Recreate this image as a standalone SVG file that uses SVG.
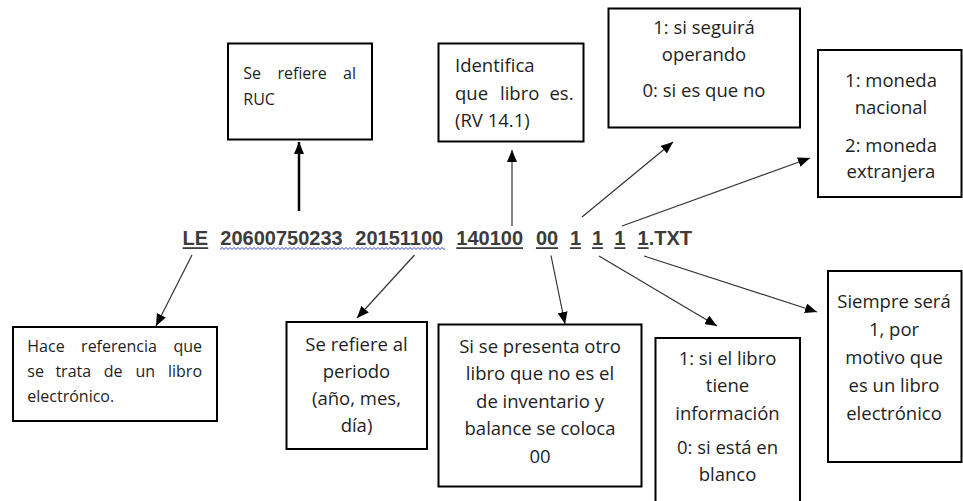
<svg xmlns="http://www.w3.org/2000/svg" width="963" height="501" viewBox="0 0 963 501">
<defs>
<style>
.box{fill:#fff;stroke:#000;stroke-width:2}
.t{font-family:"Open Sans","Noto Sans",sans-serif;font-size:18.5px;fill:#1e1e1e}
.ts{font-family:"Open Sans","Noto Sans",sans-serif;font-size:16px;fill:#1e1e1e}
.c{text-anchor:middle}
.code{font-family:"Liberation Sans",Arial,sans-serif;font-size:20px;font-weight:bold;fill:#3c3c3c}
.ul{fill:#3c3c3c}
.ln{stroke:#333;stroke-width:1.2;fill:none}
.lnb{stroke:#000;stroke-width:2.5;fill:none}
</style>
<marker id="ah" viewBox="0 0 12 10" refX="12" refY="5" markerWidth="12" markerHeight="10" markerUnits="userSpaceOnUse" orient="auto">
<path d="M0,0 L12,5 L0,10 z" fill="#000"/>
</marker>
<pattern id="wave" x="0" y="246.5" width="4" height="4" patternUnits="userSpaceOnUse">
<path d="M0,3 L2,1 L4,3" fill="none" stroke="#3a4bd0" stroke-width="1"/>
</pattern>
</defs>
<rect width="963" height="501" fill="#fff"/>

<g id="code">
<text class="code" y="244.5"><tspan x="182.6">LE</tspan><tspan x="220.3">20600750233</tspan><tspan x="355.3">20151100</tspan><tspan x="456.3">140100</tspan><tspan x="535.9">00</tspan><tspan x="569.9">1</tspan><tspan x="592">1</tspan><tspan x="614.3">1</tspan><tspan x="637.6">1.TXT</tspan></text>
<rect class="ul" x="182.6" y="247.2" width="25.6" height="1.8"/>
<rect class="ul" x="456.3" y="247.2" width="66.7" height="1.8"/>
<rect class="ul" x="535.9" y="247.2" width="22.2" height="1.8"/>
<rect class="ul" x="569.9" y="247.2" width="11.1" height="1.8"/>
<rect class="ul" x="592" y="247.2" width="11.1" height="1.8"/>
<rect class="ul" x="614.3" y="247.2" width="11.1" height="1.8"/>
<rect class="ul" x="637.6" y="247.2" width="11.1" height="1.8"/>
<rect x="220" y="246.5" width="225" height="4" fill="url(#wave)"/>
</g>

<g id="connectors">
<line class="lnb" x1="299" y1="211" x2="299" y2="142" marker-end="url(#ah)"/>
<line class="ln" x1="512" y1="226" x2="512" y2="150" marker-end="url(#ah)"/>
<line class="ln" x1="582" y1="217" x2="673" y2="142" marker-end="url(#ah)"/>
<line class="ln" x1="622" y1="226" x2="810" y2="158" marker-end="url(#ah)"/>
<line class="ln" x1="192" y1="255" x2="156" y2="326" marker-end="url(#ah)"/>
<line class="ln" x1="414.5" y1="255" x2="357" y2="318" marker-end="url(#ah)"/>
<line class="ln" x1="551" y1="255.5" x2="565" y2="324" marker-end="url(#ah)"/>
<line class="ln" x1="599" y1="256" x2="717" y2="326" marker-end="url(#ah)"/>
<line class="ln" x1="644" y1="256" x2="817" y2="312" marker-end="url(#ah)"/>
</g>

<g id="ruc">
<rect class="box" x="228" y="43.5" width="144" height="96"/>
<text class="ts" y="79"><tspan x="243.3">Se</tspan><tspan x="277.4">refiere</tspan><tspan x="356" text-anchor="end">al</tspan></text>
<text class="ts" x="243.3" y="105">RUC</text>
</g>

<g id="libro">
<rect class="box" x="438.5" y="43.5" width="145" height="98"/>
<text class="t" x="455" y="72">Identifica</text>
<text class="t" y="99.5"><tspan x="455">que</tspan><tspan x="500">libro</tspan><tspan x="573.5" text-anchor="end">es.</tspan></text>
<text class="t" x="455" y="127">(RV 14.1)</text>
</g>

<g id="operando">
<rect class="box" x="608.5" y="8.5" width="191.5" height="119"/>
<text class="t c" x="704" y="34">1: si seguirá</text>
<text class="t c" x="704" y="61">operando</text>
<text class="t c" x="704" y="97">0: si es que no</text>
</g>

<g id="moneda">
<rect class="box" x="818" y="50" width="143.5" height="147"/>
<text class="t c" x="891" y="87">1: moneda</text>
<text class="t c" x="891" y="114">nacional</text>
<text class="t c" x="891" y="152">2: moneda</text>
<text class="t c" x="891" y="178">extranjera</text>
</g>

<g id="electronico">
<rect class="box" x="13" y="327" width="204" height="94"/>
<text class="ts" y="352"><tspan x="27.3">Hace</tspan><tspan x="81.1">referencia</tspan><tspan x="202" text-anchor="end">que</tspan></text>
<text class="ts" y="376.5"><tspan x="27.3">se</tspan><tspan x="55.4">trata</tspan><tspan x="103.8">de</tspan><tspan x="135.5">un</tspan><tspan x="202" text-anchor="end">libro</tspan></text>
<text class="ts" x="27.3" y="401.5">electrónico.</text>
</g>

<g id="periodo">
<rect class="box" x="286.5" y="322" width="140.5" height="127"/>
<text class="t c" x="356.5" y="351">Se refiere al</text>
<text class="t c" x="356.5" y="378">periodo</text>
<text class="t c" x="356.5" y="405">(año, mes,</text>
<text class="t c" x="356.5" y="432">día)</text>
</g>

<g id="inventario">
<rect class="box" x="438.5" y="324.5" width="203" height="162"/>
<text class="t c" x="540" y="352.5">Si se presenta otro</text>
<text class="t c" x="540" y="380">libro que no es el</text>
<text class="t c" x="540" y="407.5">de inventario y</text>
<text class="t c" x="540" y="435">balance se coloca</text>
<text class="t c" x="540" y="462.5">00</text>
</g>

<g id="informacion">
<rect class="box" x="655.5" y="338" width="144.5" height="175"/>
<text class="t c" x="727.5" y="365">1: si el libro</text>
<text class="t c" x="727.5" y="392">tiene</text>
<text class="t c" x="727.5" y="420">información</text>
<text class="t c" x="727.5" y="454">0: si está en</text>
<text class="t c" x="727.5" y="481">blanco</text>
</g>

<g id="siempre">
<rect class="box" x="828" y="271" width="133.5" height="191"/>
<text class="t c" x="894" y="308">Siempre será</text>
<text class="t c" x="894" y="336">1, por</text>
<text class="t c" x="894" y="364">motivo que</text>
<text class="t c" x="894" y="392">es un libro</text>
<text class="t c" x="894" y="420">electrónico</text>
</g>
</svg>
